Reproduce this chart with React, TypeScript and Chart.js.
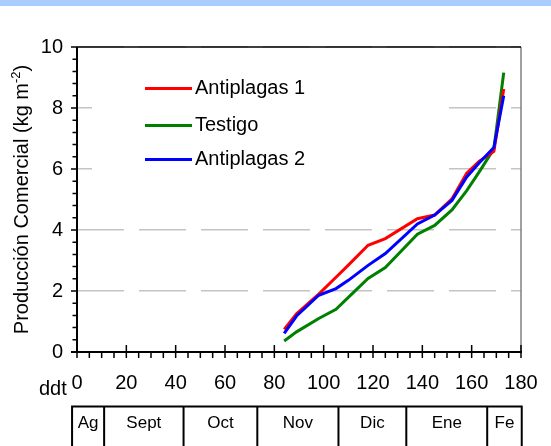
import React, { useEffect, useRef } from 'react';
import { Chart, registerables } from 'chart.js';

Chart.register(...registerables);

// ---- data ----
const ddt = [84, 89, 98, 105, 110, 118, 125, 138, 145, 152, 158, 163, 169, 173];
const antiplagas1 = [0.74, 1.25, 1.9, 2.45, 2.85, 3.5, 3.72, 4.37, 4.49, 5.02, 5.86, 6.25, 6.58, 8.62];
const testigo = [0.36, 0.66, 1.1, 1.4, 1.79, 2.41, 2.77, 3.86, 4.15, 4.66, 5.29, 5.9, 6.66, 9.16];
const antiplagas2 = [0.61, 1.18, 1.86, 2.08, 2.35, 2.84, 3.23, 4.2, 4.49, 4.97, 5.74, 6.2, 6.7, 8.4];
const seriesNames = ['Antiplagas 1', 'Testigo', 'Antiplagas 2'];
const seriesColors = ['#ff0000', '#008000', '#0000ff'];
const xTickValues = [0, 20, 40, 60, 80, 100, 120, 140, 160, 180];
const yTickValues = [0, 2, 4, 6, 8, 10];
const months = ['Ag', 'Sept', 'Oct', 'Nov', 'Dic', 'Ene', 'Fe'];
const monthBounds = [-2, 11, 43.2, 73.1, 106, 133.5, 166.3, 180.3];

const FONT = "'Liberation Sans', Arial, sans-serif";

const decorPlugin = {
  id: 'decor',
  beforeDatasetsDraw(chart: any) {
    const ctx = chart.ctx;
    ctx.save();
    // legend box (white, hides gridlines)
    ctx.fillStyle = '#ffffff';
    ctx.fillRect(92, 62, 343, 112);
    const rows = [88.5, 125.5, 159.5];
    [0, 1, 2].forEach((i) => {
      ctx.strokeStyle = seriesColors[i];
      ctx.lineWidth = 3;
      ctx.beginPath();
      ctx.moveTo(145, rows[i]);
      ctx.lineTo(192, rows[i]);
      ctx.stroke();
      ctx.fillStyle = '#000';
      ctx.font = `20px ${FONT}`;
      ctx.textAlign = 'left';
      ctx.textBaseline = 'alphabetic';
      ctx.fillText(seriesNames[i], 195, rows[i] + 5);
    });
    ctx.restore();
  },
  afterDatasetsDraw(chart: any) {
    const ctx = chart.ctx;
    const { left, right, top, bottom } = chart.chartArea;
    const xs = chart.scales.x;
    const ys = chart.scales.y;
    ctx.save();
    ctx.lineCap = 'butt';
    ctx.strokeStyle = '#808080';
    ctx.lineWidth = 1.5;
    ctx.beginPath();
    ctx.moveTo(right, top);
    ctx.lineTo(right, bottom);
    ctx.stroke();
    ctx.strokeStyle = '#000';
    ctx.beginPath();
    ctx.moveTo(left, top);
    ctx.lineTo(right, top);
    ctx.stroke();
    ctx.lineWidth = 2;
    ctx.beginPath();
    ctx.moveTo(left, top);
    ctx.lineTo(left, bottom);
    ctx.moveTo(left - 6, bottom);
    ctx.lineTo(right + 1, bottom);
    ctx.stroke();
    ctx.lineWidth = 1.5;
    ctx.beginPath();
    for (let k = 0; k <= 25; k++) {
      const v = k * 0.4;
      const py = ys.getPixelForValue(v);
      const major = k % 5 === 0;
      ctx.moveTo(left - (major ? 6 : 4.5), py);
      ctx.lineTo(left, py);
    }
    for (let k = 0; k <= 36; k++) {
      const v = k * 5;
      const px = xs.getPixelForValue(v);
      const major = k % 4 === 0;
      ctx.moveTo(px, bottom - (major ? 7 : 0));
      ctx.lineTo(px, bottom + 6);
    }
    ctx.stroke();
    ctx.restore();
  },
  afterDraw(chart: any) {
    const ctx = chart.ctx;
    const xs = chart.scales.x;
    const ys = chart.scales.y;
    ctx.save();
    ctx.fillStyle = '#abcdfe';
    ctx.fillRect(0, 0, chart.width, 6);
    ctx.fillStyle = '#000';
    ctx.font = `20px ${FONT}`;
    // x tick labels
    ctx.textAlign = 'center';
    ctx.textBaseline = 'middle';
    xTickValues.forEach((v) => {
      ctx.fillText(String(v), xs.getPixelForValue(v), 383);
    });
    ctx.textAlign = 'left';
    ctx.textBaseline = 'alphabetic';
    ctx.fillText('ddt', 39, 395);
    // month table
    const tTop = 406.5;
    const tBottom = chart.height;
    ctx.strokeStyle = '#000';
    ctx.lineWidth = 2;
    ctx.beginPath();
    const xb = monthBounds.map((b) => xs.getPixelForValue(b));
    ctx.moveTo(xb[0] - 1, tTop);
    ctx.lineTo(xb[xb.length - 1] + 1, tTop);
    xb.forEach((px) => {
      ctx.moveTo(px, tTop);
      ctx.lineTo(px, tBottom);
    });
    ctx.stroke();
    ctx.font = `17px ${FONT}`;
    ctx.textAlign = 'center';
    ctx.textBaseline = 'middle';
    months.forEach((m, i) => {
      ctx.fillText(m, (xb[i] + xb[i + 1]) / 2, 423);
    });
    // y title with superscript
    const main = 'Producción Comercial (kg m';
    const sup = '-2';
    const close = ')';
    ctx.font = `20px ${FONT}`;
    const wm = ctx.measureText(main).width;
    const wc = ctx.measureText(close).width;
    ctx.font = `13px ${FONT}`;
    const ws = ctx.measureText(sup).width;
    const total = wm + ws + wc;
    const cy = (ys.getPixelForValue(0) + ys.getPixelForValue(10)) / 2;
    ctx.translate(28, cy);
    ctx.rotate(-Math.PI / 2);
    ctx.textAlign = 'left';
    ctx.textBaseline = 'alphabetic';
    let x0 = -total / 2;
    ctx.font = `20px ${FONT}`;
    ctx.fillText(main, x0, 0);
    x0 += wm;
    ctx.font = `13px ${FONT}`;
    ctx.fillText(sup, x0, -8);
    x0 += ws;
    ctx.font = `20px ${FONT}`;
    ctx.fillText(close, x0, 0);
    ctx.restore();
  },
};

export default function App() {
  const ref = useRef<HTMLCanvasElement | null>(null);
  useEffect(() => {
    document.body.style.margin = '0';
    if (!ref.current) return;
    const mk = (vals: number[]) => ddt.map((x, i) => ({ x, y: vals[i] }));
    const chart = new Chart(ref.current, {
      type: 'line',
      data: {
        datasets: [
          { label: seriesNames[0], data: mk(antiplagas1), borderColor: seriesColors[0], borderWidth: 3, pointRadius: 0, tension: 0, fill: false, order: 1 },
          { label: seriesNames[1], data: mk(testigo), borderColor: seriesColors[1], borderWidth: 3, pointRadius: 0, tension: 0, fill: false, order: 2 },
          { label: seriesNames[2], data: mk(antiplagas2), borderColor: seriesColors[2], borderWidth: 3, pointRadius: 0, tension: 0, fill: false, order: 0 },
        ],
      },
      options: {
        animation: false,
        responsive: false,
        devicePixelRatio: 1,
        layout: { padding: { top: 47, right: 30, left: 0, bottom: 0 } },
        plugins: { legend: { display: false }, tooltip: { enabled: false } },
        scales: {
          x: {
            type: 'linear',
            min: 0,
            max: 180,
            afterBuildTicks: (s: any) => { s.ticks = xTickValues.map((v) => ({ value: v })); },
            afterFit: (s: any) => { s.height = 94; },
            grid: { display: false, drawTicks: false },
            border: { display: false },
            ticks: { display: false },
          },
          y: {
            type: 'linear',
            min: 0,
            max: 10,
            afterBuildTicks: (s: any) => { s.ticks = yTickValues.map((v) => ({ value: v })); },
            afterFit: (s: any) => { s.width = 77; },
            grid: { color: '#c4c4c4', lineWidth: 1.5, drawTicks: false },
            border: { display: false, dash: [47, 15] },
            ticks: { font: { family: FONT, size: 20 }, color: '#000', padding: 14 },
          },
        },
      },
      plugins: [decorPlugin],
    });
    return () => chart.destroy();
  }, []);
  return (
    <div style={{ width: 551, height: 446, position: 'relative', background: '#fff' }}>
      <canvas ref={ref} width={551} height={446} style={{ display: 'block', width: 551, height: 446 }} />
    </div>
  );
}
